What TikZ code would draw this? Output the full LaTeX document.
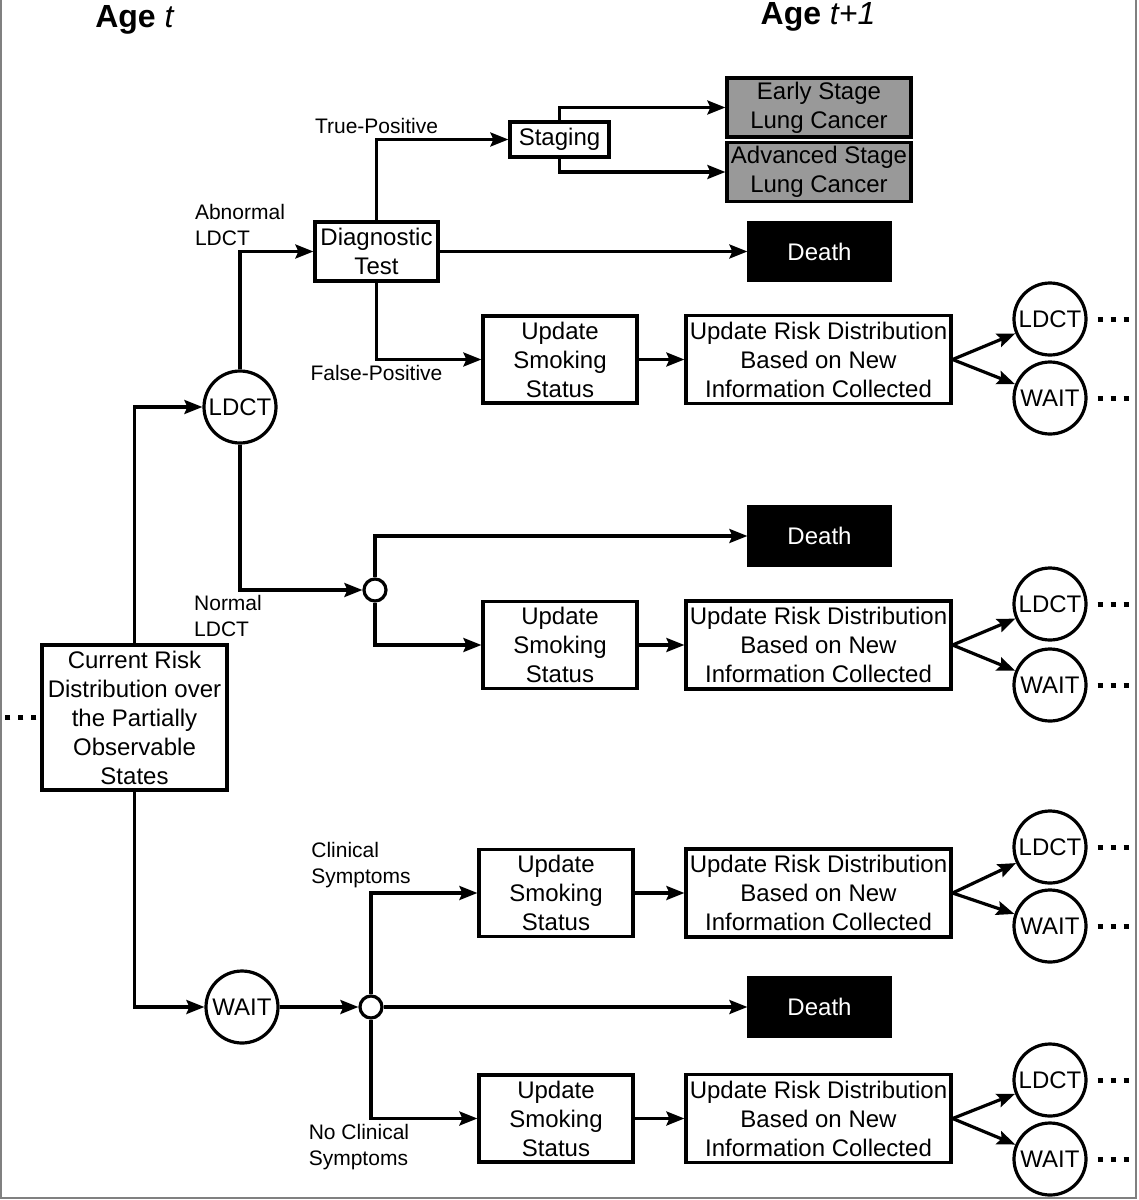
\documentclass[tikz,border=0pt]{standalone}
\usepackage{fontspec}
\setmainfont{Liberation Sans}
\usetikzlibrary{arrows.meta}

\begin{document}
\begin{tikzpicture}[x=0.5pt, y=-0.5pt, line width=1.6pt,
	box/.style={draw, rectangle, align=center, inner sep=1pt, font=\fontsize{12}{14.5}\selectfont},
	stagebox/.style={box, fill=black!40, minimum width=92pt, minimum height=29.5pt},
	smokebox/.style={box, minimum width=77pt, minimum height=43.5pt},
	riskbox/.style={box, minimum width=132.5pt, minimum height=44pt},
	death/.style={box, fill=black, text=white, minimum width=70.5pt, minimum height=29pt},
	action/.style={draw, circle, inner sep=0pt, minimum size=36pt, font=\fontsize{12}{14.5}\selectfont},
	chance/.style={draw, circle, inner sep=0pt, minimum size=11pt, fill=white},
	arrow/.style={-{Stealth[length=9pt, width=7pt, inset=1.5pt]}},
	heading/.style={font=\fontsize{16}{19}\selectfont},
	branch/.style={align=left, inner sep=2pt, font=\fontsize{10.5}{13}\selectfont},
	dotsline/.style={line width=2.5pt, dash pattern=on 2.5pt off 4pt}
]
\useasboundingbox (0,0) rectangle (1139,1200);
\draw[gray, line width=1pt] (1,0) -- (1,1198) -- (1136,1198) -- (1136,0);

% headings
\node[heading] (aget) at (135,20) {\textbf{Age} \textit{t}};
\node[heading] (agenext) at (818,17) {\textbf{Age} \textit{t+1}};

% current belief and actions
\node[box, minimum width=92.5pt, minimum height=72.5pt] (cur) at (134.5,717.5) {Current Risk\\Distribution over\\the Partially\\Observable\\States};
\node[action] (ldct) at (240,407) {LDCT};
\node[action] (wait) at (242,1007) {WAIT};

\draw[arrow] (cur.north) |- (ldct.west);
\draw[arrow] (cur.south) |- (wait.west);
\draw[dotsline] ([xshift=-2pt]cur.west) -- ++(-32,0);

% abnormal LDCT
\node[box, minimum width=61.5pt, minimum height=29.5pt] (diag) at (376.5,251.5) {Diagnostic\\Test};
\node[box, minimum width=49.5pt, minimum height=17.5pt] (stag) at (559.5,139.5) {Staging};
\node[stagebox] (early) at (819,107.5) {Early Stage\\Lung Cancer};
\node[stagebox] (adv) at (819,172) {Advanced Stage\\Lung Cancer};
\node[death] (dth1) at (819.5,251.5) {Death};
\node[smokebox] (smk1) at (560,359.5) {Update\\Smoking\\Status};
\node[riskbox] (risk1) at (818.5,359.5) {Update Risk Distribution\\Based on New\\Information Collected};
\node[action] (ldct1) at (1050,319) {LDCT};
\node[action] (wait1) at (1050,398) {WAIT};

\draw[arrow] (ldct.north) |- node[above, branch]{Abnormal\\LDCT} (diag.west);
\draw[arrow] (diag.north) |- node[above, branch]{True-Positive} (stag.west);
\draw[arrow] (diag.east) -- (dth1.west);
\draw[arrow] (diag.south) |- node[below, branch]{False-Positive} (smk1.west);
\draw[arrow] (stag.north) |- (early.west);
\draw[arrow] (stag.south) |- (adv.west);
\draw[arrow] (smk1) -- (risk1);
\draw[arrow] (risk1.east) -- (ldct1);
\draw[arrow] (risk1.east) -- (wait1);

% normal LDCT
\node[chance] (nrm) at (375,590) {};
\node[death] (dth2) at (819.5,536) {Death};
\node[smokebox] (smk2) at (560,645) {Update\\Smoking\\Status};
\node[riskbox] (risk2) at (818.5,645) {Update Risk Distribution\\Based on New\\Information Collected};
\node[action] (ldct2) at (1050,604) {LDCT};
\node[action] (wait2) at (1050,685) {WAIT};

\draw[arrow] (ldct.south) |- node[below, branch, xshift=-6pt]{Normal\\LDCT} (nrm.west);
\draw[arrow] (nrm.north) |- (dth2.west);
\draw[arrow] (nrm.south) |- (smk2.west);
\draw[arrow] (smk2) -- (risk2);
\draw[arrow] (risk2.east) -- (ldct2);
\draw[arrow] (risk2.east) -- (wait2);

% wait
\node[chance] (sym) at (371,1007) {};
\node[smokebox] (smk3) at (556,893) {Update\\Smoking\\Status};
\node[riskbox] (risk3) at (818.5,893) {Update Risk Distribution\\Based on New\\Information Collected};
\node[action] (ldct3) at (1050,847) {LDCT};
\node[action] (wait3) at (1050,926) {WAIT};
\node[death] (dth3) at (819.5,1007) {Death};
\node[smokebox] (smk4) at (556,1118.5) {Update\\Smoking\\Status};
\node[riskbox] (risk4) at (818.5,1118.5) {Update Risk Distribution\\Based on New\\Information Collected};
\node[action] (ldct4) at (1050,1080) {LDCT};
\node[action] (wait4) at (1050,1159) {WAIT};

\draw[arrow] (wait.east) -- (sym.west);
\draw[arrow] (sym.north) |- node[above, branch, xshift=-5pt]{Clinical\\Symptoms} (smk3.west);
\draw[arrow] (sym.east) -- (dth3.west);
\draw[arrow] (sym.south) |- node[below, branch, xshift=-6pt]{No Clinical\\Symptoms} (smk4.west);
\draw[arrow] (smk3) -- (risk3);
\draw[arrow] (risk3.east) -- (ldct3);
\draw[arrow] (risk3.east) -- (wait3);
\draw[arrow] (smk4) -- (risk4);
\draw[arrow] (risk4.east) -- (ldct4);
\draw[arrow] (risk4.east) -- (wait4);

% continuation dots
\foreach \c in {ldct1,wait1,ldct2,wait2,ldct3,wait3,ldct4,wait4}
	\draw[dotsline] ([xshift=5pt]\c.east) -- ++(34,0);
\end{tikzpicture}
\end{document}
